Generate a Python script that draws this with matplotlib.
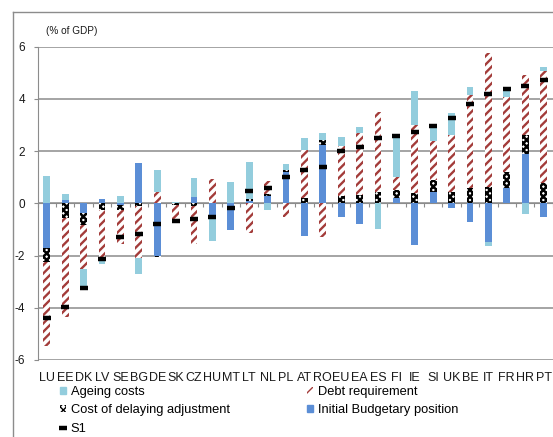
import numpy as np
import matplotlib
matplotlib.use('Agg')
import matplotlib.pyplot as plt
from matplotlib.patches import Patch
from matplotlib.lines import Line2D
from matplotlib.transforms import blended_transform_factory

plt.rcParams['font.family'] = ['Liberation Sans', 'DejaVu Sans']
plt.rcParams['axes.unicode_minus'] = False

countries = ['LU', 'EE', 'DK', 'LV', 'SE', 'BG', 'DE', 'SK', 'CZ', 'HU', 'MT', 'LT', 'NL', 'PL',
             'AT', 'RO', 'EU', 'EA', 'ES', 'FI', 'IE', 'SI', 'UK', 'BE', 'IT', 'FR', 'HR', 'PT']
initial_budgetary = [-1.72, 0.13, -0.38, 0.17, -0.05, 1.54, -2.0, 0.0, 0.26, -0.51, -1.02, 0.10, 0.28, 1.20,
                     -1.25, 2.24, -0.51, -0.79, 0.0, 0.20, -1.59, 0.45, -0.19, -0.70, -1.47, 0.58, 1.90, -0.51]
cost_delaying = [-0.51, -0.57, -0.45, -0.25, -0.20, -0.10, -0.05, -0.08, -0.10, 0.0, 0.0, 0.05, 0.08, 0.08,
                 0.20, 0.20, 0.30, 0.32, 0.45, 0.30, 0.38, 0.45, 0.45, 0.58, 0.64, 0.63, 0.72, 0.77]
debt_requirement = [-3.23, -3.77, -1.69, -1.85, -1.32, -2.0, 0.45, -0.60, -1.46, 0.92, 0.03, -1.15, 0.50, -0.51,
                    1.85, -1.27, 1.90, 2.36, 3.06, 0.50, 2.62, 1.47, 2.17, 3.57, 5.13, 2.88, 2.30, 4.31]
ageing_costs = [1.05, 0.23, -0.77, -0.23, 0.28, -0.62, 0.83, 0.05, 0.70, -0.95, 0.80, 1.45, -0.25, 0.23,
                0.47, 0.25, 0.33, 0.24, -1.0, 1.58, 1.32, 0.63, 0.83, 0.32, -0.16, 0.34, -0.40, 0.13]
s1 = [-4.40, -3.96, -3.25, -2.14, -1.30, -1.17, -0.79, -0.66, -0.60, -0.53, -0.19, 0.48, 0.60, 1.02,
      1.28, 1.41, 2.02, 2.15, 2.52, 2.57, 2.75, 2.98, 3.28, 3.82, 4.18, 4.37, 4.50, 4.73]

IBP_C = '#5B8ED6'
AC_C = '#93CDDD'
DR_C = '#A33C3A'
GRID_C = '#8C8C8C'

W, H = 553, 437
fig = plt.figure(figsize=(W / 100, H / 100), dpi=100)
ax = fig.add_axes([37.6 / W, (H - 360) / H, 515.1 / W, 313.3 / H])

x = np.arange(len(countries))
bw = 0.37
series = [
    (initial_budgetary, dict(facecolor=IBP_C, edgecolor=IBP_C), None, 1.0),
    (cost_delaying, dict(facecolor='white', edgecolor='black'), 'xxxxx', 1.8),
    (debt_requirement, dict(facecolor='white', edgecolor=DR_C), '////', 1.7),
    (ageing_costs, dict(facecolor=AC_C, edgecolor=AC_C), None, 1.0),
]
pos = np.zeros(len(x))
neg = np.zeros(len(x))
for vals, style, hatch, hlw in series:
    v = np.array(vals, dtype=float)
    bottom = np.where(v >= 0, pos, neg)
    with plt.rc_context({'hatch.linewidth': hlw}):
        bars = ax.bar(x, v, bw, bottom=bottom, linewidth=0, hatch=hatch, zorder=3, **style)
        for b in bars:
            if hasattr(b, 'set_hatch_linewidth'):
                b.set_hatch_linewidth(hlw)
    pos += np.clip(v, 0, None)
    neg += np.clip(v, None, 0)

ax.plot(x, s1, ls='none', marker='_', ms=6, mew=3.2, color='black', zorder=5)

ax.set_xlim(-0.5, len(x) - 0.5)
ax.set_ylim(-6, 6)
ax.set_yticks([-6, -4, -2, 0, 2, 4, 6])
ax.set_yticklabels(['-6', '-4', '-2', '0', '2', '4', '6'])
ax.yaxis.grid(True, color=GRID_C, lw=1.1)
ax.set_axisbelow(True)
for s in ['top', 'right']:
    ax.spines[s].set_visible(False)
ax.spines['left'].set_color(GRID_C)
ax.spines['bottom'].set_color(GRID_C)
ax.spines['bottom'].set_position(('data', 0))
ax.spines['bottom'].set_zorder(2)
ax.set_xticks(np.arange(-0.5, len(x), 1))
ax.set_xticklabels([])
ax.tick_params(axis='x', length=3, color=GRID_C, direction='out')
ax.tick_params(axis='y', length=3, color=GRID_C, direction='out', pad=6, labelsize=8.5, labelcolor='#1a1a1a')

trans = blended_transform_factory(ax.transData, ax.transAxes)
for i, c in enumerate(countries):
    ax.text(i, -0.058, c, transform=trans, ha='center', va='center', fontsize=9, color='#1a1a1a')

fig.text(46 / W, 1 - 31 / H, '(% of GDP)', ha='left', va='center', fontsize=7.2, color='#1a1a1a')

fig.add_artist(Line2D([13 / W, 13 / W], [0, 1 - 12.3 / H], transform=fig.transFigure, color=GRID_C, lw=1))
fig.add_artist(Line2D([13 / W, 1], [1 - 12.3 / H, 1 - 12.3 / H], transform=fig.transFigure, color=GRID_C, lw=1))

with plt.rc_context({'hatch.linewidth': 1.8}):
    h_coda = Patch(facecolor='white', edgecolor='black', hatch='xxxxx', lw=0)
with plt.rc_context({'hatch.linewidth': 1.7}):
    h_dr = Patch(facecolor='white', edgecolor=DR_C, hatch='////', lw=0)
handles = [Patch(facecolor=AC_C, edgecolor=AC_C),
           h_coda,
           Line2D([], [], ls='none', marker='_', ms=6, mew=3.2, color='black'),
           h_dr,
           Patch(facecolor=IBP_C, edgecolor=IBP_C)]
labels = ['Ageing costs', 'Cost of delaying adjustment', 'S1', 'Debt requirement', 'Initial Budgetary position']
fig.legend(handles, labels, ncol=2, loc='upper left', bbox_to_anchor=(60 / W, 1 - 386 / H),
           frameon=False, fontsize=9.3, handlelength=0.45, handleheight=0.45, handletextpad=0.38,
           columnspacing=6.0, labelspacing=0.5, borderaxespad=0, borderpad=0)

fig.savefig('out.png', dpi=100)
